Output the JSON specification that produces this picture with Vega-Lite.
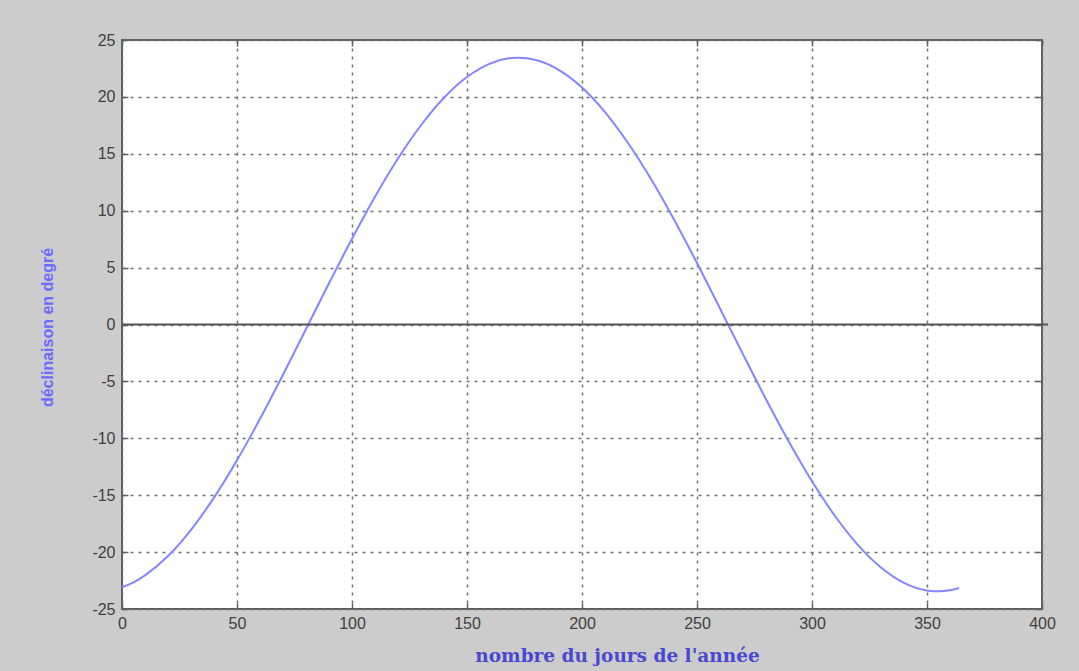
{
  "$schema": "https://vega.github.io/schema/vega-lite/v6.json",
  "width": 920,
  "height": 569,
  "autosize": {"type": "none"},
  "padding": {"left": 122, "top": 40, "right": 37, "bottom": 62},
  "background": "#cccccc",
  "config": {
    "view": {"fill": "white", "stroke": "#606060", "strokeWidth": 2},
    "axis": {
      "labelFont": "Liberation Sans",
      "labelFontSize": 16,
      "labelColor": "#404040",
      "labelExpr": "'' + datum.value",
      "tickColor": "#606060",
      "tickWidth": 1.5,
      "tickSize": -6,
      "domain": false,
      "gridColor": "#707070",
      "gridDash": [3, 5],
      "gridWidth": 1.5,
      "gridOpacity": 1
    }
  },
  "layer": [
    {
      "data": {
        "values": [
          {"jour": 0, "declinaison": -23.09},
          {"jour": 5, "declinaison": -22.66},
          {"jour": 10, "declinaison": -22.04},
          {"jour": 20, "declinaison": -20.35},
          {"jour": 30, "declinaison": -18.04},
          {"jour": 40, "declinaison": -15.21},
          {"jour": 50, "declinaison": -11.93},
          {"jour": 60, "declinaison": -8.29},
          {"jour": 70, "declinaison": -4.41},
          {"jour": 80, "declinaison": -0.40},
          {"jour": 90, "declinaison": 3.62},
          {"jour": 100, "declinaison": 7.53},
          {"jour": 110, "declinaison": 11.23},
          {"jour": 120, "declinaison": 14.59},
          {"jour": 130, "declinaison": 17.51},
          {"jour": 140, "declinaison": 19.93},
          {"jour": 150, "declinaison": 21.75},
          {"jour": 160, "declinaison": 22.93},
          {"jour": 172, "declinaison": 23.45},
          {"jour": 180, "declinaison": 23.24},
          {"jour": 190, "declinaison": 22.36},
          {"jour": 200, "declinaison": 20.83},
          {"jour": 210, "declinaison": 18.67},
          {"jour": 220, "declinaison": 15.95},
          {"jour": 230, "declinaison": 12.79},
          {"jour": 240, "declinaison": 9.23},
          {"jour": 250, "declinaison": 5.40},
          {"jour": 260, "declinaison": 1.41},
          {"jour": 270, "declinaison": -2.62},
          {"jour": 280, "declinaison": -6.57},
          {"jour": 290, "declinaison": -10.33},
          {"jour": 300, "declinaison": -13.78},
          {"jour": 310, "declinaison": -16.83},
          {"jour": 320, "declinaison": -19.38},
          {"jour": 330, "declinaison": -21.35},
          {"jour": 340, "declinaison": -22.70},
          {"jour": 350, "declinaison": -23.37},
          {"jour": 355, "declinaison": -23.45},
          {"jour": 360, "declinaison": -23.35},
          {"jour": 364, "declinaison": -23.15}
        ]
      },
      "mark": {"type": "line", "color": "#8585ff", "strokeWidth": 2, "interpolate": "monotone"},
      "encoding": {
        "x": {
          "field": "jour",
          "type": "quantitative",
          "scale": {"domain": [0, 400], "nice": false, "zero": false},
          "axis": {
            "orient": "bottom",
            "values": [0, 50, 100, 150, 200, 250, 300, 350, 400],
            "grid": true,
            "labelPadding": 12,
            "labelFlush": false,
            "title": "nombre du jours de l'année",
            "titleFont": "DejaVu Serif",
            "titleFontSize": 18.5,
            "titleFontWeight": "bold",
            "titleColor": "#4848d0",
            "titleX": 495,
            "titleY": 52,
            "titleAlign": "center",
            "titleBaseline": "alphabetic"
          }
        },
        "y": {
          "field": "declinaison",
          "type": "quantitative",
          "scale": {"domain": [-25, 25], "nice": false, "zero": false},
          "axis": {
            "orient": "left",
            "values": [-25, -20, -15, -10, -5, 0, 5, 10, 15, 20, 25],
            "grid": true,
            "labelPadding": 13,
            "labelFlush": false,
            "title": "déclinaison en degré",
            "titleFont": "Liberation Sans",
            "titleFontSize": 16,
            "titleFontWeight": "bold",
            "titleColor": "#6b6bff",
            "titleAngle": -90,
            "titleX": -75,
            "titleY": 287,
            "titleAlign": "center",
            "titleBaseline": "middle"
          }
        }
      }
    },
    {
      "data": {"values": [{"debut": 0, "fin": 402.6, "niveau": 0}]},
      "mark": {"type": "rule", "color": "#555555", "strokeWidth": 2},
      "encoding": {
        "x": {
          "field": "debut",
          "type": "quantitative",
          "scale": {"domain": [0, 400], "nice": false, "zero": false},
          "axis": {
            "orient": "top",
            "values": [0, 50, 100, 150, 200, 250, 300, 350, 400],
            "labels": false,
            "grid": false,
            "title": null
          }
        },
        "x2": {"field": "fin"},
        "y": {
          "field": "niveau",
          "type": "quantitative",
          "scale": {"domain": [-25, 25], "nice": false, "zero": false},
          "axis": {
            "orient": "right",
            "values": [-25, -20, -15, -10, -5, 0, 5, 10, 15, 20, 25],
            "labels": false,
            "grid": false,
            "title": null
          }
        }
      }
    }
  ],
  "resolve": {"axis": {"x": "independent", "y": "independent"}}
}
